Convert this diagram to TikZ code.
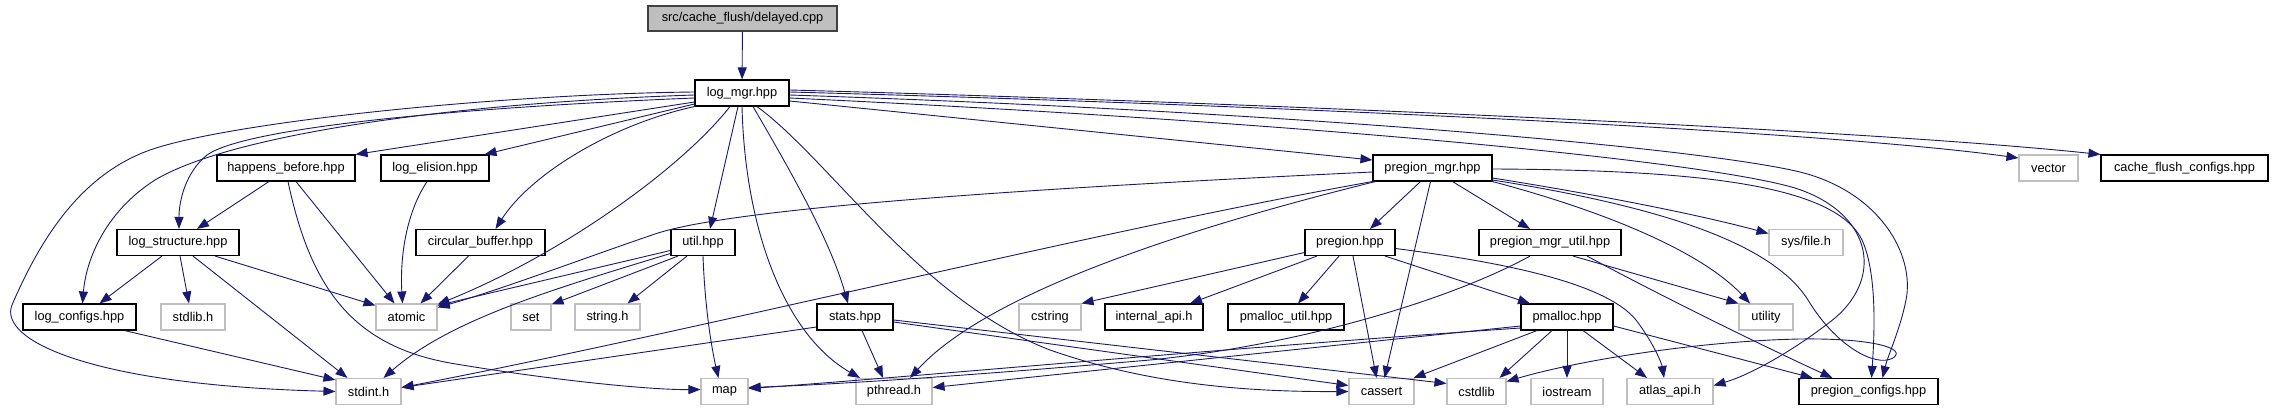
\documentclass[tikz,border=0pt]{standalone}
\usepackage{fontspec}
\setmainfont{Liberation Sans}
\usetikzlibrary{arrows.meta}
\definecolor{edgecol}{HTML}{191970}
\definecolor{lgray}{HTML}{BFBFBF}
\definecolor{rootfill}{HTML}{BFBFBF}
\definecolor{rootdraw}{HTML}{404040}
\tikzset{
  base/.style={rectangle, inner sep=0pt, minimum height=26pt, font=\fontsize{12.8pt}{15pt}\selectfont},
  blk/.style={base, draw=black, line width=1.1pt, fill=white},
  gry/.style={base, draw=lgray, line width=1.1pt, fill=white},
  rootbox/.style={base, draw=rootdraw, line width=1.1pt, fill=rootfill, minimum height=25pt},
  e/.style={draw=edgecol, line width=0.9pt, -{Triangle[length=12pt,width=9pt]}}
}
\begin{document}
\begin{tikzpicture}[x=1pt,y=-1pt]
\useasboundingbox (0,0) rectangle (2274,411);
% nodes
\node[rootbox, minimum width=189pt] (root) at (742.5,18.5) {src/cache\_flush/delayed.cpp};
\node[blk, minimum width=94pt] (logmgr) at (742,93) {log\_mgr.hpp};
% row 1
\node[blk, minimum width=138pt] (happens) at (286,168) {happens\_before.hpp};
\node[blk, minimum width=108pt] (logelision) at (435,168) {log\_elision.hpp};
\node[blk, minimum width=119pt] (pregionmgr) at (1432.5,168) {pregion\_mgr.hpp};
\node[gry, minimum width=59pt] (vector) at (2048.5,168) {vector};
\node[blk, minimum width=167pt] (cacheflush) at (2184.5,168) {cache\_flush\_configs.hpp};
% row 2
\node[blk, minimum width=122pt] (logstruct) at (178,242.5) {log\_structure.hpp};
\node[blk, minimum width=129pt] (circbuf) at (480.5,242.5) {circular\_buffer.hpp};
\node[blk, minimum width=64pt] (util) at (703,242.5) {util.hpp};
\node[blk, minimum width=90pt] (pregion) at (1350,242.5) {pregion.hpp};
\node[blk, minimum width=142pt] (pmutil) at (1550,242.5) {pregion\_mgr\_util.hpp};
\node[gry, minimum width=74pt] (sysfile) at (1806,242.5) {sys/file.h};
% row 3
\node[blk, minimum width=113pt] (logconfigs) at (79.5,317) {log\_configs.hpp};
\node[gry, minimum width=64pt] (stdlib) at (193,317) {stdlib.h};
\node[gry, minimum width=61pt] (atomic) at (406.5,317) {atomic};
\node[gry, minimum width=40pt] (set) at (531,317) {set};
\node[gry, minimum width=65pt] (stringh) at (607.5,317) {string.h};
\node[blk, minimum width=76pt] (stats) at (855,317) {stats.hpp};
\node[gry, minimum width=62pt] (cstring) at (1050,317) {cstring};
\node[blk, minimum width=98pt] (internalapi) at (1154,317) {internal\_api.h};
\node[blk, minimum width=116pt] (pmallocutil) at (1286,317) {pmalloc\_util.hpp};
\node[blk, minimum width=92pt] (pmalloc) at (1567,317) {pmalloc.hpp};
\node[gry, minimum width=54pt] (utility) at (1766,317) {utility};
% row 4
\node[gry, minimum width=65pt] (stdint) at (368.5,391.5) {stdint.h};
\node[gry, minimum width=47pt] (map) at (724.5,391.5) {map};
\node[gry, minimum width=76pt] (pthread) at (894,391.5) {pthread.h};
\node[gry, minimum width=65pt] (cassert) at (1381.5,391.5) {cassert};
\node[gry, minimum width=59pt] (cstdlib) at (1476.5,391.5) {cstdlib};
\node[gry, minimum width=72pt] (iostream) at (1567,391.5) {iostream};
\node[gry, minimum width=86pt] (atlasapi) at (1670,391.5) {atlas\_api.h};
\node[blk, minimum width=139pt] (pconfigs) at (1868.5,391.5) {pregion\_configs.hpp};

% root
\draw[e] (root) -- (logmgr);
% log_mgr
\draw[e] ([yshift=1pt]logmgr.west) .. controls (500,94) and (230,122) .. (150,150) .. controls (80,175) and (40,240) .. (12,305) .. controls (-2,340) and (90,385) .. (stdint.west);
\draw[e] ([yshift=-2pt]logmgr.west) .. controls (450,103) and (230,135) .. (155,180) .. controls (105,212) and (86,260) .. ([xshift=3pt]logconfigs.north);
\draw[e] ([yshift=-5pt]logmgr.west) .. controls (450,108) and (245,128) .. (207,155) .. controls (186,172) and (179,200) .. ([xshift=1pt]logstruct.north);
\draw[e] ([yshift=-9pt]logmgr.west) -- (happens.north east);
\draw[e] ([yshift=-11pt]logmgr.west) -- ([xshift=-5pt]logelision.north east);
\draw[e] (logmgr.south west) .. controls (610,125) and (530,175) .. ([xshift=15pt]circbuf.north);
\draw[e] ([xshift=-12pt]logmgr.south) .. controls (680,170) and (560,255) .. ([yshift=-1pt]atomic.north east);
\draw[e] ([xshift=-4pt]logmgr.south) -- ([xshift=7pt]util.north);
\draw[e] (logmgr.south) .. controls (745,230) and (785,335) .. ([xshift=-34pt]pthread.north);
\draw[e] ([xshift=11pt]logmgr.south) .. controls (790,170) and (830,240) .. ([xshift=-7pt]stats.north);
\draw[e] ([xshift=15pt]logmgr.south) .. controls (830,160) and (920,300) .. (1050,350) .. controls (1150,385) and (1250,392) .. (cassert.west);
\draw[e] ([yshift=-8pt]logmgr.east) -- ([yshift=8pt]pregionmgr.west);
\draw[e] ([yshift=1pt]logmgr.east) .. controls (1200,103) and (1800,128) .. ([yshift=10pt]vector.west);
\draw[e] ([yshift=3pt]logmgr.east) .. controls (1200,101) and (1850,128) .. (cacheflush.north west);
\draw[e] ([yshift=-2pt]logmgr.east) .. controls (1300,112) and (1700,148) .. (1800,172) .. controls (1880,192) and (1915,255) .. (1906,300) .. controls (1900,330) and (1888,355) .. ([xshift=14pt]pconfigs.north);
\draw[e] ([yshift=-5pt]logmgr.east) .. controls (1300,122) and (1700,160) .. (1795,188) .. controls (1870,212) and (1885,275) .. (1835,318) .. controls (1795,350) and (1750,375) .. ([yshift=6pt]atlasapi.east);
% pregion_mgr
\draw[e] ([yshift=-1pt]pregionmgr.east) .. controls (1700,170) and (1835,185) .. (1862,240) .. controls (1878,275) and (1874,340) .. ([xshift=3pt]pconfigs.north);
\draw[e] ([yshift=-12pt]pregionmgr.east) .. controls (1650,205) and (1770,240) .. (1808,300) .. controls (1835,345) and (1875,368) .. (1893,358) .. controls (1908,348) and (1870,338) .. (1800,339) .. controls (1700,341) and (1580,360) .. ([yshift=10pt]cstdlib.east);
\draw[e] ([yshift=-10pt]pregionmgr.east) .. controls (1600,195) and (1700,215) .. ([yshift=9pt]sysfile.west);
\draw[e] (pregionmgr.south east) .. controls (1600,210) and (1700,250) .. ([xshift=-16pt]utility.north);
\draw[e] ([yshift=-4pt]pregionmgr.west) .. controls (1100,185) and (740,205) .. (655,234) .. controls (590,256) and (500,290) .. ([yshift=-4pt]atomic.north east);
\draw[e] (pregionmgr.south west) .. controls (1100,230) and (700,330) .. ([yshift=4pt]stdint.east);
\draw[e] ([xshift=3pt]pregionmgr.south west) .. controls (1200,225) and (990,290) .. ([xshift=16pt]pthread.north);
\draw[e] ([xshift=-12pt]pregionmgr.south) -- ([xshift=20pt]pregion.north);
\draw[e] ([xshift=-2pt]pregionmgr.south) -- ([xshift=3pt]cassert.north);
\draw[e] ([xshift=20pt]pregionmgr.south) -- ([xshift=-20pt]pmutil.north);
% pregion
\draw[e] ([yshift=-10pt]pregion.west) -- (cstring.north east);
\draw[e] ([xshift=-33pt]pregion.south) -- ([xshift=36pt]internalapi.north);
\draw[e] ([xshift=-11pt]pregion.south) -- ([xshift=12pt]pmallocutil.north);
\draw[e] ([xshift=3pt]pregion.south) -- ([xshift=-5pt]cassert.north);
\draw[e] ([xshift=35pt]pregion.south) -- ([xshift=-37pt]pmalloc.north);
\draw[e] ([yshift=-6pt]pregion.east) .. controls (1500,262) and (1605,282) .. (1636,320) .. controls (1655,345) and (1662,365) .. ([xshift=-6pt]atlasapi.north);
% pregion_mgr_util
\draw[e] ([xshift=-20pt]pmutil.south) .. controls (1450,300) and (1300,345) .. (1150,360) .. controls (1000,373) and (850,384) .. ([yshift=4pt]map.east);
\draw[e] ([xshift=23pt]pmutil.south) -- (utility.north west);
\draw[e] ([xshift=37pt]pmutil.south) .. controls (1650,290) and (1750,340) .. ([xshift=-36pt]pconfigs.north);
% pmalloc
\draw[e] ([yshift=-9pt]pmalloc.west) -- ([yshift=4pt]pthread.east);
\draw[e] ([yshift=-11pt]pmalloc.west) .. controls (1200,350) and (900,378) .. ([yshift=3pt]map.east);
\draw[e] ([xshift=-30pt]pmalloc.south) -- ([xshift=32pt]cassert.north);
\draw[e] ([xshift=-15pt]pmalloc.south) -- ([xshift=23pt]cstdlib.north);
\draw[e] (pmalloc.south) -- (iostream.north);
\draw[e] ([xshift=16pt]pmalloc.south) -- ([xshift=-23pt]atlasapi.north);
\draw[e] ([yshift=-9pt]pmalloc.east) -- ([xshift=-56pt]pconfigs.north);
% stats
\draw[e] ([yshift=-10pt]stats.west) -- ([yshift=4pt]stdint.east);
\draw[e] ([xshift=7pt]stats.south) -- ([xshift=-11pt]pthread.north);
\draw[e] ([yshift=-5pt]stats.east) -- ([yshift=6pt]cassert.west);
\draw[e] ([yshift=-3pt]stats.east) -- ([yshift=8pt]cstdlib.west);
% util
\draw[e] ([yshift=-8pt]util.west) -- ([yshift=-2pt]atomic.north east);
\draw[e] ([yshift=-11pt]util.west) .. controls (550,290) and (450,320) .. ([xshift=15pt]stdint.north);
\draw[e] ([xshift=-25pt]util.south) -- ([yshift=-1pt]set.north east);
\draw[e] ([xshift=-16pt]util.south) -- ([xshift=20pt]stringh.north);
\draw[e] (util.south) .. controls (705,310) and (712,350) .. ([xshift=-6pt]map.north);
% log_structure
\draw[e] ([xshift=-16pt]logstruct.south) -- ([xshift=20pt]logconfigs.north);
\draw[e] ([xshift=2pt]logstruct.south) -- ([xshift=-4pt]stdlib.north);
\draw[e] ([xshift=15pt]logstruct.south) -- ([xshift=-21pt]stdint.north);
\draw[e] ([xshift=37pt]logstruct.south) -- ([yshift=-2pt]atomic.north west);
% happens_before
\draw[e] ([xshift=-17pt]happens.south) -- ([xshift=19pt]logstruct.north);
\draw[e] ([xshift=10pt]happens.south) -- ([xshift=-12pt]atomic.north);
\draw[e] ([xshift=2pt]happens.south) .. controls (310,285) and (350,345) .. (450,363) .. controls (550,380) and (650,390) .. ([yshift=2pt]map.west);
% log_elision
\draw[e] ([xshift=-8pt]logelision.south) .. controls (405,215) and (400,260) .. ([xshift=-4pt]atomic.north);
% circular_buffer
\draw[e] ([xshift=-12pt]circbuf.south) -- ([xshift=14pt]atomic.north);
% log_configs
\draw[e] ([xshift=45pt]logconfigs.south) -- ([yshift=-2pt]stdint.north west);
\end{tikzpicture}
\end{document}
